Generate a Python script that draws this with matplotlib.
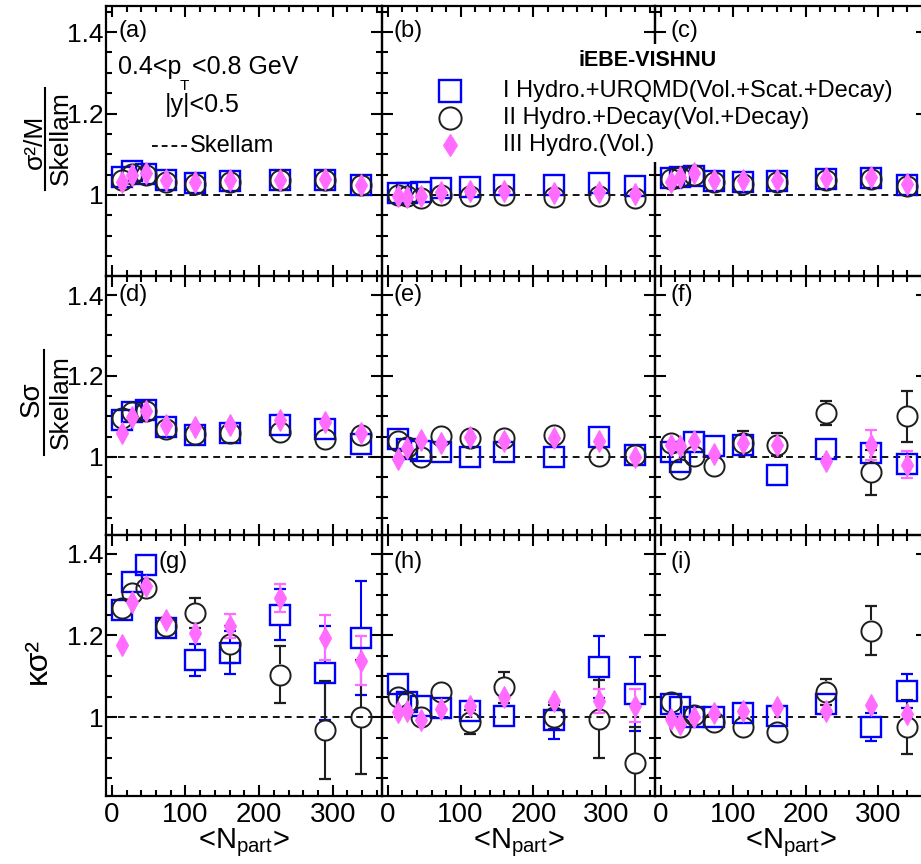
import numpy as np
import matplotlib
matplotlib.use("Agg")
import matplotlib.pyplot as plt
from matplotlib.lines import Line2D
from matplotlib.patches import Rectangle
from matplotlib.ticker import MultipleLocator, FuncFormatter

plt.rcParams['font.family'] = ['Liberation Sans', 'DejaVu Sans']
plt.rcParams['mathtext.fontset'] = 'custom'
plt.rcParams['mathtext.rm'] = 'Liberation Sans'
plt.rcParams['mathtext.it'] = 'Liberation Sans:italic'
plt.rcParams['mathtext.default'] = 'regular'

# ---------------------------------------------------------------- data
npart = [14, 27, 46, 73, 113, 160, 228, 290, 339]

# I: Hydro.+URQMD, II: Hydro.+Decay, III: Hydro. (volume only)
# row 1: (sigma^2/M) / Skellam
a_I   = [1.044, 1.060, 1.052, 1.036, 1.030, 1.034, 1.036, 1.036, 1.024]
a_II  = [1.036, 1.052, 1.048, 1.032, 1.028, 1.032, 1.036, 1.036, 1.024]
a_III = [1.032, 1.048, 1.054, 1.036, 1.032, 1.036, 1.036, 1.040, 1.024]

b_I   = [1.005, 1.005, 1.008, 1.017, 1.020, 1.025, 1.025, 1.030, 1.023]
b_II  = [1.000, 0.997, 0.993, 1.000, 0.997, 1.000, 0.995, 0.997, 0.993]
b_III = [0.997, 0.995, 0.997, 1.007, 1.010, 1.010, 1.005, 1.007, 1.003]

c_I   = [1.042, 1.045, 1.047, 1.035, 1.032, 1.034, 1.039, 1.042, 1.024]
c_II  = [1.040, 1.045, 1.048, 1.032, 1.028, 1.032, 1.036, 1.038, 1.022]
c_III = [1.033, 1.045, 1.054, 1.037, 1.037, 1.037, 1.042, 1.045, 1.028]

# row 2: S*sigma / Skellam
d_I   = [1.090, 1.110, 1.117, 1.073, 1.055, 1.060, 1.079, 1.068, 1.031]
d_II  = [1.095, 1.110, 1.114, 1.070, 1.056, 1.060, 1.062, 1.044, 1.053]
d_III = [1.060, 1.098, 1.113, 1.078, 1.074, 1.078, 1.092, 1.086, 1.060]

e_I   = [1.043, 1.020, 1.015, 1.011, 1.000, 1.013, 1.000, 1.048, 1.005]
e_II  = [1.039, 1.025, 1.000, 1.051, 1.047, 1.046, 1.054, 1.003, 1.005]
e_III = [0.996, 1.022, 1.041, 1.035, 1.050, 1.039, 1.046, 1.039, 1.000]

f_I   = [1.013, 0.987, 1.038, 1.026, 1.030, 0.955, 1.020, 1.010, 0.982]
f_II  = [1.034, 0.970, 1.003, 0.978, 1.034, 1.030, 1.108, 0.962, 1.100]
f_III = [1.030, 1.026, 1.039, 1.006, 1.035, 1.030, 0.989, 1.030, 0.981]
f_II_err  = [0, 0, 0, 0, 0.029, 0.029, 0.030, 0.055, 0.062]
f_III_err = [0, 0, 0, 0, 0, 0, 0, 0.037, 0.033]

# row 3: kappa*sigma^2
g_I   = [1.263, 1.332, 1.372, 1.219, 1.140, 1.158, 1.251, 1.108, 1.194]
g_II  = [1.267, 1.304, 1.316, 1.223, 1.255, 1.178, 1.104, 0.968, 1.000]
g_III = [1.176, 1.283, 1.321, 1.239, 1.206, 1.223, 1.292, 1.194, 1.138]
g_I_err   = [0, 0, 0, 0, 0.038, 0.053, 0.063, 0.115, 0.140]
g_II_err  = [0, 0, 0, 0, 0.036, 0.045, 0.070, 0.120, 0.140]
g_III_err = [0, 0, 0, 0, 0, 0.030, 0.035, 0.055, 0.060]

h_I   = [1.081, 1.038, 1.028, 1.023, 1.016, 1.004, 0.992, 1.123, 1.057]
h_II  = [1.049, 1.036, 1.000, 1.061, 0.988, 1.073, 1.000, 0.996, 0.887]
h_III = [1.012, 1.016, 0.992, 1.020, 1.028, 1.049, 1.040, 1.040, 1.028]
h_I_err   = [0, 0, 0, 0, 0, 0, 0.045, 0.075, 0.090]
h_II_err  = [0, 0, 0, 0, 0.030, 0.038, 0.030, 0.095, 0.090]
h_III_err = [0, 0, 0, 0, 0, 0, 0, 0.030, 0.040]

i_I   = [1.033, 1.024, 1.000, 1.001, 1.011, 1.003, 1.033, 0.975, 1.064]
i_II  = [1.036, 0.976, 1.006, 0.989, 0.976, 0.964, 1.062, 1.211, 0.976]
i_III = [0.996, 0.984, 1.000, 1.011, 1.016, 1.024, 1.016, 1.031, 1.008]
i_I_err   = [0, 0, 0, 0, 0, 0, 0, 0.034, 0.041]
i_II_err  = [0, 0, 0, 0, 0, 0, 0.032, 0.060, 0.065]

zeros = [0] * len(npart)

panels = [
    ('(a)', a_I, zeros, a_II, zeros, a_III, zeros),
    ('(b)', b_I, zeros, b_II, zeros, b_III, zeros),
    ('(c)', c_I, zeros, c_II, zeros, c_III, zeros),
    ('(d)', d_I, zeros, d_II, zeros, d_III, zeros),
    ('(e)', e_I, zeros, e_II, zeros, e_III, zeros),
    ('(f)', f_I, zeros, f_II, f_II_err, f_III, f_III_err),
    ('(g)', g_I, g_I_err, g_II, g_II_err, g_III, g_III_err),
    ('(h)', h_I, h_I_err, h_II, h_II_err, h_III, h_III_err),
    ('(i)', i_I, i_I_err, i_II, i_II_err, i_III, zeros),
]

series_labels = ['I Hydro.+URQMD(Vol.+Scat.+Decay)',
                 'II Hydro.+Decay(Vol.+Decay)',
                 'III Hydro.(Vol.)']
model_name = 'iEBE-VISHNU'

# ---------------------------------------------------------------- layout
W, H = 921, 864
fig = plt.figure(figsize=(W / 100, H / 100), dpi=100)

col_edges = [106, 382, 655, 927]
row_edges = [6, 276, 535, 796]
row_ylims = [(0.801, 1.464), (0.807, 1.447), (0.807, 1.446)]
xlim = (-8, 367)

BLUE = '#0000ff'
DARK = '#1e1e1e'
PINK = '#ff6cff'

styles = [
    dict(marker='s', ms=14.5, mfc='none', mec=BLUE, mew=1.7, color=BLUE, half=11, z=3),
    dict(marker='o', ms=14.5, mfc='none', mec=DARK, mew=1.4, color=DARK, half=10.5, z=4),
    dict(marker='d', ms=10.8, mfc=PINK, mec=PINK, mew=0.8, color=PINK, half=10, z=5),
]


def fx(x):
    return x / W


def fy(y):
    return 1 - y / H


def draw_series(ax, y, err, st, ppu):
    x = np.asarray(npart, float)
    y = np.asarray(y, float)
    e = np.asarray(err, float)
    half = st['half'] / ppu
    m = e > half
    c = st['color']
    if m.any():
        ax.vlines(x[m], y[m] + half, y[m] + e[m], colors=c, lw=1.5, zorder=2.5)
        ax.vlines(x[m], y[m] - e[m], y[m] - half, colors=c, lw=1.5, zorder=2.5)
        for sgn in (1, -1):
            ax.plot(x[m], y[m] + sgn * e[m], ls='none', marker='_', ms=8,
                    mew=1.6, color=c, zorder=2.5)
    ax.plot(x, y, ls='none', marker=st['marker'], ms=st['ms'], mfc=st['mfc'],
            mec=st['mec'], mew=st['mew'], zorder=st['z'])


for idx, (lab, yI, eI, yII, eII, yIII, eIII) in enumerate(panels):
    r, c = divmod(idx, 3)
    l, rr = col_edges[c], col_edges[c + 1]
    t, b = row_edges[r], row_edges[r + 1]
    ax = fig.add_axes([fx(l), fy(b), (rr - l) / W, (b - t) / H])
    ax.patch.set_visible(False)
    ylo, yhi = row_ylims[r]
    ax.set_xlim(*xlim)
    ax.set_ylim(ylo, yhi)
    ppu = (b - t) / (yhi - ylo)

    ax.axhline(1.0, color='k', lw=1.3, dashes=(3.8, 2.8), zorder=1)
    for (yy, ee), st in zip([(yI, eI), (yII, eII), (yIII, eIII)], styles):
        draw_series(ax, yy, ee, st, ppu)

    ax.xaxis.set_major_locator(MultipleLocator(100))
    ax.xaxis.set_minor_locator(MultipleLocator(20))
    ax.yaxis.set_major_locator(MultipleLocator(0.2))
    ax.yaxis.set_minor_locator(MultipleLocator(0.05))
    ax.tick_params(which='both', direction='in', top=True, right=True,
                   width=1.5, color='k')
    ax.tick_params(which='major', length=8)
    ax.tick_params(which='minor', length=4.5)
    ax.tick_params(axis='y', labelsize=19, pad=2)
    ax.tick_params(axis='x', labelsize=20, pad=4)
    ax.yaxis.set_major_formatter(FuncFormatter(lambda v, p: f'{v:g}'))
    ax.xaxis.set_major_formatter(FuncFormatter(lambda v, p: f'{v:.0f}'))
    if c != 0:
        ax.tick_params(axis='y', labelleft=False)
    if r != 2:
        ax.tick_params(axis='x', labelbottom=False)
    for s in ax.spines.values():
        s.set_linewidth(1.6)

    # panel tag
    lx = 158 if lab == '(g)' else [118, 393, 670][c]
    ly = [31, 295, 562][r]
    fig.text(fx(lx), fy(ly), lab, fontsize=17, ha='left', va='center')

    if r == 2:
        fig.text(fx((l + rr) / 2), fy(848), r'<N$_{part}$>', fontsize=21,
                 ha='center', va='baseline')

# ---------------------------------------------------------------- y titles
fig.text(fx(35), fy(142), 'σ²/M', rotation=90, fontsize=19, ha='center', va='center')
fig.text(fx(61), fy(138), 'Skellam', rotation=90, fontsize=19, ha='center', va='center')
fig.add_artist(Line2D([fx(45), fx(45)], [fy(88), fy(190)], color='k', lw=1.5,
                      transform=fig.transFigure))

fig.text(fx(32), fy(399), 'Sσ', rotation=90, fontsize=20, ha='center', va='center')
fig.text(fx(61), fy(402), 'Skellam', rotation=90, fontsize=19, ha='center', va='center')
fig.add_artist(Line2D([fx(44), fx(44)], [fy(350), fy(455)], color='k', lw=1.5,
                      transform=fig.transFigure))

fig.text(fx(38), fy(661), 'κσ²', rotation=90, fontsize=23, ha='center', va='center')

# ---------------------------------------------------------------- annotations
fig.text(fx(118), fy(74), '0.4<p', fontsize=18, ha='left', va='baseline')
fig.text(fx(180), fy(90), 'T', fontsize=11, ha='left', va='baseline')
fig.text(fx(192), fy(74), '<0.8 GeV', fontsize=18, ha='left', va='baseline')
fig.text(fx(165), fy(112), '|y|<0.5', fontsize=18, ha='left', va='baseline')
fig.add_artist(Line2D([fx(152), fx(187)], [fy(146), fy(146)], color='k', lw=1.3,
                      dashes=(3.2, 2.2), transform=fig.transFigure))
fig.text(fx(190), fy(146), 'Skellam', fontsize=17, ha='left', va='center')

# legend box (opaque, sits over the panel frames)
fig.add_artist(Rectangle((fx(425), fy(162)), (905 - 425) / W, (162 - 44) / H,
                         transform=fig.transFigure, facecolor='white',
                         edgecolor='none', zorder=1.5))
fig.text(fx(648), fy(61), model_name, fontsize=15.5, fontweight='bold',
         ha='center', va='center', zorder=3)
leg_y = [91, 118, 145]
leg_ms = [16.5, 16, 11.5]
for yy, st, ms, txt in zip(leg_y, styles, leg_ms, series_labels):
    fig.add_artist(Line2D([fx(450)], [fy(yy)], ls='none', marker=st['marker'],
                          ms=ms, mfc=st['mfc'], mec=st['mec'], mew=st['mew'],
                          transform=fig.transFigure, zorder=2))
    fig.text(fx(503), fy(yy), txt, fontsize=17, ha='left', va='center', zorder=3)

fig.savefig('out.png', dpi=100)
